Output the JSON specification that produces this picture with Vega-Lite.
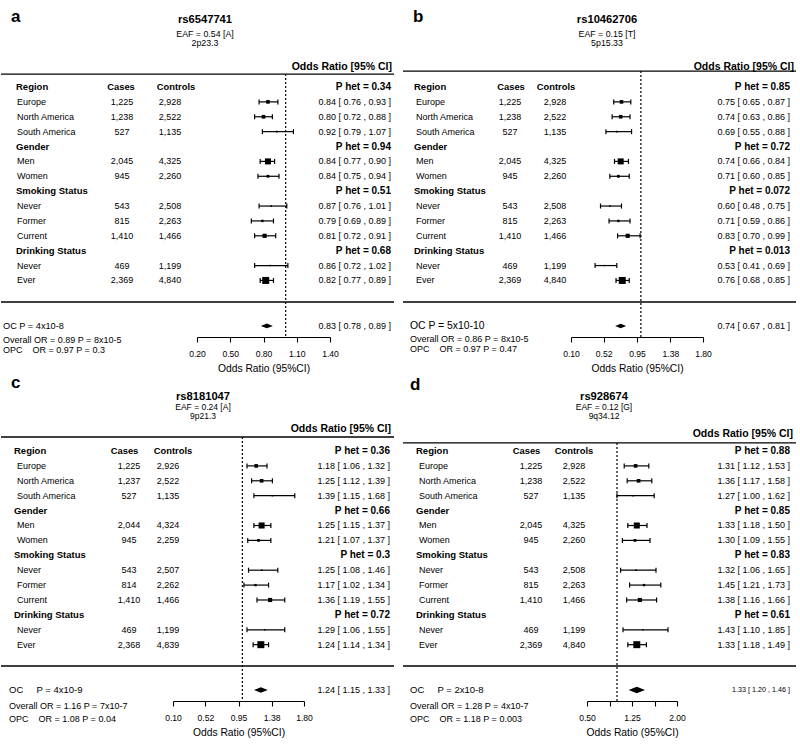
{
"$schema": "https://vega.github.io/schema/vega-lite/v6.json",
"padding": 0,
"spacing": 0,
"config": {
 "view": {"stroke": null, "fill": null},
 "font": "Liberation Sans",
 "text": {"color": "#000", "font": "Liberation Sans"},
 "axis": {"grid": false, "domainColor": "#000", "domainWidth": 1.1, "tickColor": "#000", "tickWidth": 1.1, "tickSize": 5, "labelFont": "Liberation Sans", "labelFontSize": 8.6, "labelColor": "#000", "labelPadding": 7, "labelFlush": false, "labelOverlap": false, "titleFont": "Liberation Sans", "titleFontSize": 10.3, "titleFontWeight": "normal", "titleColor": "#000", "titlePadding": 6}
},
"datasets": {
 "ra": [
  {"row": 0, "label": "Region", "phet": "P het = 0.34"},
  {"row": 1, "label": "Europe", "cases": 1225, "controls": 2928, "or": 0.84, "lo": 0.76, "hi": 0.93, "ortext": "0.84 [ 0.76 , 0.93 ]"},
  {"row": 2, "label": "North America", "cases": 1238, "controls": 2522, "or": 0.80, "lo": 0.72, "hi": 0.88, "ortext": "0.80 [ 0.72 , 0.88 ]"},
  {"row": 3, "label": "South America", "cases": 527, "controls": 1135, "or": 0.92, "lo": 0.79, "hi": 1.07, "ortext": "0.92 [ 0.79 , 1.07 ]"},
  {"row": 4, "label": "Gender", "phet": "P het = 0.94"},
  {"row": 5, "label": "Men", "cases": 2045, "controls": 4325, "or": 0.84, "lo": 0.77, "hi": 0.90, "ortext": "0.84 [ 0.77 , 0.90 ]"},
  {"row": 6, "label": "Women", "cases": 945, "controls": 2260, "or": 0.84, "lo": 0.75, "hi": 0.94, "ortext": "0.84 [ 0.75 , 0.94 ]"},
  {"row": 7, "label": "Smoking Status", "phet": "P het = 0.51"},
  {"row": 8, "label": "Never", "cases": 543, "controls": 2508, "or": 0.87, "lo": 0.76, "hi": 1.01, "ortext": "0.87 [ 0.76 , 1.01 ]"},
  {"row": 9, "label": "Former", "cases": 815, "controls": 2263, "or": 0.79, "lo": 0.69, "hi": 0.89, "ortext": "0.79 [ 0.69 , 0.89 ]"},
  {"row": 10, "label": "Current", "cases": 1410, "controls": 1466, "or": 0.81, "lo": 0.72, "hi": 0.91, "ortext": "0.81 [ 0.72 , 0.91 ]"},
  {"row": 11, "label": "Drinking Status", "phet": "P het = 0.68"},
  {"row": 12, "label": "Never", "cases": 469, "controls": 1199, "or": 0.86, "lo": 0.72, "hi": 1.02, "ortext": "0.86 [ 0.72 , 1.02 ]"},
  {"row": 13, "label": "Ever", "cases": 2369, "controls": 4840, "or": 0.82, "lo": 0.77, "hi": 0.89, "ortext": "0.82 [ 0.77 , 0.89 ]"}
 ],
 "rb": [
  {"row": 0, "label": "Region", "phet": "P het = 0.85"},
  {"row": 1, "label": "Europe", "cases": 1225, "controls": 2928, "or": 0.75, "lo": 0.65, "hi": 0.87, "ortext": "0.75 [ 0.65 , 0.87 ]"},
  {"row": 2, "label": "North America", "cases": 1238, "controls": 2522, "or": 0.74, "lo": 0.63, "hi": 0.86, "ortext": "0.74 [ 0.63 , 0.86 ]"},
  {"row": 3, "label": "South America", "cases": 527, "controls": 1135, "or": 0.69, "lo": 0.55, "hi": 0.88, "ortext": "0.69 [ 0.55 , 0.88 ]"},
  {"row": 4, "label": "Gender", "phet": "P het = 0.72"},
  {"row": 5, "label": "Men", "cases": 2045, "controls": 4325, "or": 0.74, "lo": 0.66, "hi": 0.84, "ortext": "0.74 [ 0.66 , 0.84 ]"},
  {"row": 6, "label": "Women", "cases": 945, "controls": 2260, "or": 0.71, "lo": 0.60, "hi": 0.85, "ortext": "0.71 [ 0.60 , 0.85 ]"},
  {"row": 7, "label": "Smoking Status", "phet": "P het = 0.072"},
  {"row": 8, "label": "Never", "cases": 543, "controls": 2508, "or": 0.60, "lo": 0.48, "hi": 0.75, "ortext": "0.60 [ 0.48 , 0.75 ]"},
  {"row": 9, "label": "Former", "cases": 815, "controls": 2263, "or": 0.71, "lo": 0.59, "hi": 0.86, "ortext": "0.71 [ 0.59 , 0.86 ]"},
  {"row": 10, "label": "Current", "cases": 1410, "controls": 1466, "or": 0.83, "lo": 0.70, "hi": 0.99, "ortext": "0.83 [ 0.70 , 0.99 ]"},
  {"row": 11, "label": "Drinking Status", "phet": "P het = 0.013"},
  {"row": 12, "label": "Never", "cases": 469, "controls": 1199, "or": 0.53, "lo": 0.41, "hi": 0.69, "ortext": "0.53 [ 0.41 , 0.69 ]"},
  {"row": 13, "label": "Ever", "cases": 2369, "controls": 4840, "or": 0.76, "lo": 0.68, "hi": 0.85, "ortext": "0.76 [ 0.68 , 0.85 ]"}
 ],
 "rc": [
  {"row": 0, "label": "Region", "phet": "P het = 0.36"},
  {"row": 1, "label": "Europe", "cases": 1225, "controls": 2926, "or": 1.18, "lo": 1.06, "hi": 1.32, "ortext": "1.18 [ 1.06 , 1.32 ]"},
  {"row": 2, "label": "North America", "cases": 1237, "controls": 2522, "or": 1.25, "lo": 1.12, "hi": 1.39, "ortext": "1.25 [ 1.12 , 1.39 ]"},
  {"row": 3, "label": "South America", "cases": 527, "controls": 1135, "or": 1.39, "lo": 1.15, "hi": 1.68, "ortext": "1.39 [ 1.15 , 1.68 ]"},
  {"row": 4, "label": "Gender", "phet": "P het = 0.66"},
  {"row": 5, "label": "Men", "cases": 2044, "controls": 4324, "or": 1.25, "lo": 1.15, "hi": 1.37, "ortext": "1.25 [ 1.15 , 1.37 ]"},
  {"row": 6, "label": "Women", "cases": 945, "controls": 2259, "or": 1.21, "lo": 1.07, "hi": 1.37, "ortext": "1.21 [ 1.07 , 1.37 ]"},
  {"row": 7, "label": "Smoking Status", "phet": "P het = 0.3"},
  {"row": 8, "label": "Never", "cases": 543, "controls": 2507, "or": 1.25, "lo": 1.08, "hi": 1.46, "ortext": "1.25 [ 1.08 , 1.46 ]"},
  {"row": 9, "label": "Former", "cases": 814, "controls": 2262, "or": 1.17, "lo": 1.02, "hi": 1.34, "ortext": "1.17 [ 1.02 , 1.34 ]"},
  {"row": 10, "label": "Current", "cases": 1410, "controls": 1466, "or": 1.36, "lo": 1.19, "hi": 1.55, "ortext": "1.36 [ 1.19 , 1.55 ]"},
  {"row": 11, "label": "Drinking Status", "phet": "P het = 0.72"},
  {"row": 12, "label": "Never", "cases": 469, "controls": 1199, "or": 1.29, "lo": 1.06, "hi": 1.55, "ortext": "1.29 [ 1.06 , 1.55 ]"},
  {"row": 13, "label": "Ever", "cases": 2368, "controls": 4839, "or": 1.24, "lo": 1.14, "hi": 1.34, "ortext": "1.24 [ 1.14 , 1.34 ]"}
 ],
 "rd": [
  {"row": 0, "label": "Region", "phet": "P het = 0.88"},
  {"row": 1, "label": "Europe", "cases": 1225, "controls": 2928, "or": 1.31, "lo": 1.12, "hi": 1.53, "ortext": "1.31 [ 1.12 , 1.53 ]"},
  {"row": 2, "label": "North America", "cases": 1238, "controls": 2522, "or": 1.36, "lo": 1.17, "hi": 1.58, "ortext": "1.36 [ 1.17 , 1.58 ]"},
  {"row": 3, "label": "South America", "cases": 527, "controls": 1135, "or": 1.27, "lo": 1.00, "hi": 1.62, "ortext": "1.27 [ 1.00 , 1.62 ]"},
  {"row": 4, "label": "Gender", "phet": "P het = 0.85"},
  {"row": 5, "label": "Men", "cases": 2045, "controls": 4325, "or": 1.33, "lo": 1.18, "hi": 1.50, "ortext": "1.33 [ 1.18 , 1.50 ]"},
  {"row": 6, "label": "Women", "cases": 945, "controls": 2260, "or": 1.30, "lo": 1.09, "hi": 1.55, "ortext": "1.30 [ 1.09 , 1.55 ]"},
  {"row": 7, "label": "Smoking Status", "phet": "P het = 0.83"},
  {"row": 8, "label": "Never", "cases": 543, "controls": 2508, "or": 1.32, "lo": 1.06, "hi": 1.65, "ortext": "1.32 [ 1.06 , 1.65 ]"},
  {"row": 9, "label": "Former", "cases": 815, "controls": 2263, "or": 1.45, "lo": 1.21, "hi": 1.73, "ortext": "1.45 [ 1.21 , 1.73 ]"},
  {"row": 10, "label": "Current", "cases": 1410, "controls": 1466, "or": 1.38, "lo": 1.16, "hi": 1.66, "ortext": "1.38 [ 1.16 , 1.66 ]"},
  {"row": 11, "label": "Drinking Status", "phet": "P het = 0.61"},
  {"row": 12, "label": "Never", "cases": 469, "controls": 1199, "or": 1.43, "lo": 1.10, "hi": 1.85, "ortext": "1.43 [ 1.10 , 1.85 ]"},
  {"row": 13, "label": "Ever", "cases": 2369, "controls": 4840, "or": 1.33, "lo": 1.18, "hi": 1.49, "ortext": "1.33 [ 1.18 , 1.49 ]"}
 ],
 "ia": [{"letter": "a", "snp": "rs6547741", "eaf": "EAF = 0.54 [A]", "band": "2p23.3", "oc": "OC P = 4x10-8", "or": 0.83, "lo": 0.78, "hi": 0.89, "ortext": "0.83 [ 0.78 , 0.89 ]", "overall": "Overall OR = 0.89 P = 8x10-5", "opc": "OPC\u00a0\u00a0\u00a0\u00a0OR = 0.97 P = 0.3"}],
 "ib": [{"letter": "b", "snp": "rs10462706", "eaf": "EAF = 0.15 [T]", "band": "5p15.33", "oc": "OC P = 5x10-10", "or": 0.74, "lo": 0.67, "hi": 0.81, "ortext": "0.74 [ 0.67 , 0.81 ]", "overall": "Overall OR = 0.86 P = 8x10-5", "opc": "OPC\u00a0\u00a0\u00a0\u00a0OR = 0.97 P = 0.47"}],
 "ic": [{"letter": "c", "snp": "rs8181047", "eaf": "EAF = 0.24 [A]", "band": "9p21.3", "oc": "OC\u00a0\u00a0\u00a0\u00a0\u00a0P = 4x10-9", "or": 1.24, "lo": 1.15, "hi": 1.33, "ortext": "1.24 [ 1.15 , 1.33 ]", "overall": "Overall OR = 1.16 P = 7x10-7", "opc": "OPC\u00a0\u00a0\u00a0\u00a0OR = 1.08 P = 0.04"}],
 "id": [{"letter": "d", "snp": "rs928674", "eaf": "EAF = 0.12 [G]", "band": "9q34.12", "oc": "OC\u00a0\u00a0\u00a0\u00a0\u00a0P = 2x10-8", "or": 1.33, "lo": 1.20, "hi": 1.46, "ortext": "1.33 [ 1.20 , 1.46 ]", "overall": "Overall OR = 1.28 P = 4x10-7", "opc": "OPC\u00a0\u00a0\u00a0\u00a0OR = 1.18 P = 0.003"}]
},
"vconcat": [
{"spacing": 7, "hconcat": [
{
 "width": 393, "height": 337,
 "view": {"stroke": null, "fill": null},
 "data": {"name": "ra"},
 "layer": [
  {"transform": [{"filter": "isValid(datum.or)"}], "mark": {"type": "rule", "color": "#000", "strokeWidth": 1.2},
   "encoding": {"x": {"field": "lo", "type": "quantitative", "scale": {"domain": [0.2, 1.4], "range": [196, 329], "nice": false, "zero": false}, "axis": {"values": [0.2, 0.5, 0.8, 1.1, 1.4], "format": ".2f", "title": "Odds Ratio (95%CI)"}}, "x2": {"field": "hi"},
    "y": {"field": "row", "type": "quantitative", "scale": {"domain": [-5.847, 16.801], "reverse": true, "nice": false, "zero": false}, "axis": null}}},
  {"transform": [{"filter": "isValid(datum.or)"}], "mark": {"type": "tick", "orient": "vertical", "size": 5, "thickness": 1.2, "color": "#000", "opacity": 1},
   "encoding": {"x": {"field": "lo", "type": "quantitative"}, "y": {"field": "row", "type": "quantitative", "axis": null}}},
  {"transform": [{"filter": "isValid(datum.or)"}], "mark": {"type": "tick", "orient": "vertical", "size": 5, "thickness": 1.2, "color": "#000", "opacity": 1},
   "encoding": {"x": {"field": "hi", "type": "quantitative"}, "y": {"field": "row", "type": "quantitative", "axis": null}}},
  {"transform": [{"filter": "isValid(datum.or)"}], "mark": {"type": "point", "shape": "square", "filled": true, "color": "#000", "opacity": 1},
   "encoding": {"x": {"field": "or", "type": "quantitative"}, "y": {"field": "row", "type": "quantitative", "axis": null}, "size": {"field": "cases", "type": "quantitative", "scale": {"type": "pow", "exponent": 2, "domain": [0, 2400], "range": [0, 50]}, "legend": null}}},
  {"transform": [{"filter": "isValid(datum.phet)"}], "mark": {"type": "text", "align": "left", "baseline": "middle", "fontWeight": "bold", "fontSize": 9.5},
   "encoding": {"x": {"value": 15}, "y": {"field": "row", "type": "quantitative", "axis": null}, "text": {"field": "label"}}},
  {"transform": [{"filter": "isValid(datum.phet)"}], "mark": {"type": "text", "align": "right", "baseline": "middle", "fontWeight": "bold", "fontSize": 10},
   "encoding": {"x": {"value": 390}, "y": {"field": "row", "type": "quantitative", "axis": null}, "text": {"field": "phet"}}},
  {"transform": [{"filter": "isValid(datum.cases)"}], "mark": {"type": "text", "align": "left", "baseline": "middle", "fontSize": 9},
   "encoding": {"x": {"value": 16}, "y": {"field": "row", "type": "quantitative", "axis": null}, "text": {"field": "label"}}},
  {"transform": [{"filter": "isValid(datum.cases)"}], "mark": {"type": "text", "align": "center", "baseline": "middle", "fontSize": 9},
   "encoding": {"x": {"value": 121}, "y": {"field": "row", "type": "quantitative", "axis": null}, "text": {"field": "cases", "type": "quantitative", "format": ","}}},
  {"transform": [{"filter": "isValid(datum.cases)"}], "mark": {"type": "text", "align": "center", "baseline": "middle", "fontSize": 9},
   "encoding": {"x": {"value": 169}, "y": {"field": "row", "type": "quantitative", "axis": null}, "text": {"field": "controls", "type": "quantitative", "format": ","}}},
  {"transform": [{"filter": "isValid(datum.cases)"}], "mark": {"type": "text", "align": "right", "baseline": "middle", "fontSize": 9},
   "encoding": {"x": {"value": 390}, "y": {"field": "row", "type": "quantitative", "axis": null}, "text": {"field": "ortext"}}},
  {"data": {"name": "ia"}, "mark": {"type": "text", "align": "center", "baseline": "middle", "fontWeight": "bold", "fontSize": 9.4},
   "encoding": {"x": {"value": 120}, "y": {"datum": 0}, "text": {"value": "Cases"}}},
  {"data": {"name": "ia"}, "mark": {"type": "text", "align": "center", "baseline": "middle", "fontWeight": "bold", "fontSize": 9.4},
   "encoding": {"x": {"value": 175}, "y": {"datum": 0}, "text": {"value": "Controls"}}},
  {"data": {"name": "ia"}, "mark": {"type": "text", "align": "left", "baseline": "alphabetic", "fontWeight": "bold", "fontSize": 17},
   "encoding": {"x": {"value": 10}, "y": {"datum": -4.37}, "text": {"field": "letter"}}},
  {"data": {"name": "ia"}, "mark": {"type": "text", "align": "center", "baseline": "middle", "fontWeight": "bold", "fontSize": 11.2},
   "encoding": {"x": {"value": 204}, "y": {"datum": -4.5}, "text": {"field": "snp"}}},
  {"data": {"name": "ia"}, "mark": {"type": "text", "align": "center", "baseline": "middle", "fontSize": 8.8},
   "encoding": {"x": {"value": 204}, "y": {"datum": -3.56}, "text": {"field": "eaf"}}},
  {"data": {"name": "ia"}, "mark": {"type": "text", "align": "center", "baseline": "middle", "fontSize": 8.8},
   "encoding": {"x": {"value": 204}, "y": {"datum": -2.96}, "text": {"field": "band"}}},
  {"data": {"name": "ia"}, "mark": {"type": "text", "align": "right", "baseline": "middle", "fontWeight": "bold", "fontSize": 10.5},
   "encoding": {"x": {"value": 391}, "y": {"datum": -1.34}, "text": {"value": "Odds Ratio [95% CI]"}}},
  {"data": {"name": "ia"}, "mark": {"type": "rule", "color": "#000", "strokeWidth": 1.3},
   "encoding": {"x": {"value": 0}, "x2": {"value": "width"}, "y": {"datum": -0.87}}},
  {"data": {"name": "ia"}, "mark": {"type": "rule", "color": "#000", "strokeWidth": 1.3},
   "encoding": {"x": {"value": 0}, "x2": {"value": "width"}, "y": {"datum": 14.45}}},
  {"data": {"name": "ia"}, "mark": {"type": "rule", "color": "#000", "strokeWidth": 1.2, "strokeDash": [2, 2]},
   "encoding": {"x": {"datum": 1}, "y": {"datum": -0.87}, "y2": {"datum": 16.8}}},
  {"data": {"name": "ia"}, "mark": {"type": "point", "shape": "M-1,0L0,-0.4L1,0L0,0.4Z", "filled": true, "color": "#000", "opacity": 1, "size": 144},
   "encoding": {"x": {"field": "or", "type": "quantitative"}, "y": {"datum": 16.06}}},
  {"data": {"name": "ia"}, "mark": {"type": "text", "align": "left", "baseline": "middle", "fontSize": 9.2},
   "encoding": {"x": {"value": 2}, "y": {"datum": 16.06}, "text": {"field": "oc"}}},
  {"data": {"name": "ia"}, "mark": {"type": "text", "align": "right", "baseline": "middle", "fontSize": 9},
   "encoding": {"x": {"value": 390}, "y": {"datum": 16.06}, "text": {"field": "ortext"}}},
  {"data": {"name": "ia"}, "mark": {"type": "text", "align": "left", "baseline": "middle", "fontSize": 9},
   "encoding": {"x": {"value": 2}, "y": {"datum": 17.0}, "text": {"field": "overall"}}},
  {"data": {"name": "ia"}, "mark": {"type": "text", "align": "left", "baseline": "middle", "fontSize": 9},
   "encoding": {"x": {"value": 2}, "y": {"datum": 17.67}, "text": {"field": "opc"}}}
 ]
},
{
 "width": 393, "height": 337,
 "view": {"stroke": null, "fill": null},
 "data": {"name": "rb"},
 "layer": [
  {"transform": [{"filter": "isValid(datum.or)"}], "mark": {"type": "rule", "color": "#000", "strokeWidth": 1.2},
   "encoding": {"x": {"field": "lo", "type": "quantitative", "scale": {"domain": [0.1, 1.8], "range": [168, 300], "nice": false, "zero": false}, "axis": {"values": [0.1, 0.52, 0.95, 1.38, 1.8], "format": ".2f", "title": "Odds Ratio (95%CI)"}}, "x2": {"field": "hi"},
    "y": {"field": "row", "type": "quantitative", "scale": {"domain": [-5.847, 16.801], "reverse": true, "nice": false, "zero": false}, "axis": null}}},
  {"transform": [{"filter": "isValid(datum.or)"}], "mark": {"type": "tick", "orient": "vertical", "size": 5, "thickness": 1.2, "color": "#000", "opacity": 1},
   "encoding": {"x": {"field": "lo", "type": "quantitative"}, "y": {"field": "row", "type": "quantitative", "axis": null}}},
  {"transform": [{"filter": "isValid(datum.or)"}], "mark": {"type": "tick", "orient": "vertical", "size": 5, "thickness": 1.2, "color": "#000", "opacity": 1},
   "encoding": {"x": {"field": "hi", "type": "quantitative"}, "y": {"field": "row", "type": "quantitative", "axis": null}}},
  {"transform": [{"filter": "isValid(datum.or)"}], "mark": {"type": "point", "shape": "square", "filled": true, "color": "#000", "opacity": 1},
   "encoding": {"x": {"field": "or", "type": "quantitative"}, "y": {"field": "row", "type": "quantitative", "axis": null}, "size": {"field": "cases", "type": "quantitative", "scale": {"type": "pow", "exponent": 2, "domain": [0, 2400], "range": [0, 50]}, "legend": null}}},
  {"transform": [{"filter": "isValid(datum.phet)"}], "mark": {"type": "text", "align": "left", "baseline": "middle", "fontWeight": "bold", "fontSize": 9.5},
   "encoding": {"x": {"value": 11}, "y": {"field": "row", "type": "quantitative", "axis": null}, "text": {"field": "label"}}},
  {"transform": [{"filter": "isValid(datum.phet)"}], "mark": {"type": "text", "align": "right", "baseline": "middle", "fontWeight": "bold", "fontSize": 10},
   "encoding": {"x": {"value": 387}, "y": {"field": "row", "type": "quantitative", "axis": null}, "text": {"field": "phet"}}},
  {"transform": [{"filter": "isValid(datum.cases)"}], "mark": {"type": "text", "align": "left", "baseline": "middle", "fontSize": 9},
   "encoding": {"x": {"value": 13}, "y": {"field": "row", "type": "quantitative", "axis": null}, "text": {"field": "label"}}},
  {"transform": [{"filter": "isValid(datum.cases)"}], "mark": {"type": "text", "align": "center", "baseline": "middle", "fontSize": 9},
   "encoding": {"x": {"value": 107}, "y": {"field": "row", "type": "quantitative", "axis": null}, "text": {"field": "cases", "type": "quantitative", "format": ","}}},
  {"transform": [{"filter": "isValid(datum.cases)"}], "mark": {"type": "text", "align": "center", "baseline": "middle", "fontSize": 9},
   "encoding": {"x": {"value": 152}, "y": {"field": "row", "type": "quantitative", "axis": null}, "text": {"field": "controls", "type": "quantitative", "format": ","}}},
  {"transform": [{"filter": "isValid(datum.cases)"}], "mark": {"type": "text", "align": "right", "baseline": "middle", "fontSize": 9},
   "encoding": {"x": {"value": 387}, "y": {"field": "row", "type": "quantitative", "axis": null}, "text": {"field": "ortext"}}},
  {"data": {"name": "ib"}, "mark": {"type": "text", "align": "center", "baseline": "middle", "fontWeight": "bold", "fontSize": 9.4},
   "encoding": {"x": {"value": 108}, "y": {"datum": 0}, "text": {"value": "Cases"}}},
  {"data": {"name": "ib"}, "mark": {"type": "text", "align": "center", "baseline": "middle", "fontWeight": "bold", "fontSize": 9.4},
   "encoding": {"x": {"value": 153}, "y": {"datum": 0}, "text": {"value": "Controls"}}},
  {"data": {"name": "ib"}, "mark": {"type": "text", "align": "left", "baseline": "alphabetic", "fontWeight": "bold", "fontSize": 17},
   "encoding": {"x": {"value": 10}, "y": {"datum": -4.39}, "text": {"field": "letter"}}},
  {"data": {"name": "ib"}, "mark": {"type": "text", "align": "center", "baseline": "middle", "fontWeight": "bold", "fontSize": 11.2},
   "encoding": {"x": {"value": 204}, "y": {"datum": -4.5}, "text": {"field": "snp"}}},
  {"data": {"name": "ib"}, "mark": {"type": "text", "align": "center", "baseline": "middle", "fontSize": 8.8},
   "encoding": {"x": {"value": 204}, "y": {"datum": -3.56}, "text": {"field": "eaf"}}},
  {"data": {"name": "ib"}, "mark": {"type": "text", "align": "center", "baseline": "middle", "fontSize": 8.8},
   "encoding": {"x": {"value": 204}, "y": {"datum": -2.96}, "text": {"field": "band"}}},
  {"data": {"name": "ib"}, "mark": {"type": "text", "align": "right", "baseline": "middle", "fontWeight": "bold", "fontSize": 10.5},
   "encoding": {"x": {"value": 391}, "y": {"datum": -1.34}, "text": {"value": "Odds Ratio [95% CI]"}}},
  {"data": {"name": "ib"}, "mark": {"type": "rule", "color": "#000", "strokeWidth": 1.3},
   "encoding": {"x": {"value": 0}, "x2": {"value": "width"}, "y": {"datum": -1.07}}},
  {"data": {"name": "ib"}, "mark": {"type": "rule", "color": "#000", "strokeWidth": 1.3},
   "encoding": {"x": {"value": 0}, "x2": {"value": "width"}, "y": {"datum": 14.45}}},
  {"data": {"name": "ib"}, "mark": {"type": "rule", "color": "#000", "strokeWidth": 1.2, "strokeDash": [2, 2]},
   "encoding": {"x": {"datum": 1}, "y": {"datum": -1.07}, "y2": {"datum": 16.8}}},
  {"data": {"name": "ib"}, "mark": {"type": "point", "shape": "M-1,0L0,-0.4L1,0L0,0.4Z", "filled": true, "color": "#000", "opacity": 1, "size": 121},
   "encoding": {"x": {"field": "or", "type": "quantitative"}, "y": {"datum": 16.06}}},
  {"data": {"name": "ib"}, "mark": {"type": "text", "align": "left", "baseline": "middle", "fontSize": 10.4},
   "encoding": {"x": {"value": 7}, "y": {"datum": 16.06}, "text": {"field": "oc"}}},
  {"data": {"name": "ib"}, "mark": {"type": "text", "align": "right", "baseline": "middle", "fontSize": 9},
   "encoding": {"x": {"value": 387}, "y": {"datum": 16.06}, "text": {"field": "ortext"}}},
  {"data": {"name": "ib"}, "mark": {"type": "text", "align": "left", "baseline": "middle", "fontSize": 9},
   "encoding": {"x": {"value": 7}, "y": {"datum": 16.94}, "text": {"field": "overall"}}},
  {"data": {"name": "ib"}, "mark": {"type": "text", "align": "left", "baseline": "middle", "fontSize": 9},
   "encoding": {"x": {"value": 7}, "y": {"datum": 17.6}, "text": {"field": "opc"}}}
 ]
}
]},
{"spacing": 7, "hconcat": [
{
 "width": 393, "height": 323,
 "view": {"stroke": null, "fill": null},
 "data": {"name": "rc"},
 "layer": [
  {"transform": [{"filter": "isValid(datum.or)"}], "mark": {"type": "rule", "color": "#000", "strokeWidth": 1.2},
   "encoding": {"x": {"field": "lo", "type": "quantitative", "scale": {"domain": [0.1, 1.8], "range": [172, 303], "nice": false, "zero": false}, "axis": {"values": [0.1, 0.52, 0.95, 1.38, 1.8], "format": ".2f", "title": "Odds Ratio (95%CI)"}}, "x2": {"field": "hi"},
    "y": {"field": "row", "type": "quantitative", "scale": {"domain": [-4.9, 16.78], "reverse": true, "nice": false, "zero": false}, "axis": null}}},
  {"transform": [{"filter": "isValid(datum.or)"}], "mark": {"type": "tick", "orient": "vertical", "size": 5, "thickness": 1.2, "color": "#000", "opacity": 1},
   "encoding": {"x": {"field": "lo", "type": "quantitative"}, "y": {"field": "row", "type": "quantitative", "axis": null}}},
  {"transform": [{"filter": "isValid(datum.or)"}], "mark": {"type": "tick", "orient": "vertical", "size": 5, "thickness": 1.2, "color": "#000", "opacity": 1},
   "encoding": {"x": {"field": "hi", "type": "quantitative"}, "y": {"field": "row", "type": "quantitative", "axis": null}}},
  {"transform": [{"filter": "isValid(datum.or)"}], "mark": {"type": "point", "shape": "square", "filled": true, "color": "#000", "opacity": 1},
   "encoding": {"x": {"field": "or", "type": "quantitative"}, "y": {"field": "row", "type": "quantitative", "axis": null}, "size": {"field": "cases", "type": "quantitative", "scale": {"type": "pow", "exponent": 2, "domain": [0, 2400], "range": [0, 50]}, "legend": null}}},
  {"transform": [{"filter": "isValid(datum.phet)"}], "mark": {"type": "text", "align": "left", "baseline": "middle", "fontWeight": "bold", "fontSize": 9.5},
   "encoding": {"x": {"value": 13}, "y": {"field": "row", "type": "quantitative", "axis": null}, "text": {"field": "label"}}},
  {"transform": [{"filter": "isValid(datum.phet)"}], "mark": {"type": "text", "align": "right", "baseline": "middle", "fontWeight": "bold", "fontSize": 10},
   "encoding": {"x": {"value": 389}, "y": {"field": "row", "type": "quantitative", "axis": null}, "text": {"field": "phet"}}},
  {"transform": [{"filter": "isValid(datum.cases)"}], "mark": {"type": "text", "align": "left", "baseline": "middle", "fontSize": 9},
   "encoding": {"x": {"value": 16}, "y": {"field": "row", "type": "quantitative", "axis": null}, "text": {"field": "label"}}},
  {"transform": [{"filter": "isValid(datum.cases)"}], "mark": {"type": "text", "align": "center", "baseline": "middle", "fontSize": 9},
   "encoding": {"x": {"value": 128}, "y": {"field": "row", "type": "quantitative", "axis": null}, "text": {"field": "cases", "type": "quantitative", "format": ","}}},
  {"transform": [{"filter": "isValid(datum.cases)"}], "mark": {"type": "text", "align": "center", "baseline": "middle", "fontSize": 9},
   "encoding": {"x": {"value": 167}, "y": {"field": "row", "type": "quantitative", "axis": null}, "text": {"field": "controls", "type": "quantitative", "format": ","}}},
  {"transform": [{"filter": "isValid(datum.cases)"}], "mark": {"type": "text", "align": "right", "baseline": "middle", "fontSize": 9},
   "encoding": {"x": {"value": 389}, "y": {"field": "row", "type": "quantitative", "axis": null}, "text": {"field": "ortext"}}},
  {"data": {"name": "ic"}, "mark": {"type": "text", "align": "center", "baseline": "middle", "fontWeight": "bold", "fontSize": 9.4},
   "encoding": {"x": {"value": 123.5}, "y": {"datum": 0}, "text": {"value": "Cases"}}},
  {"data": {"name": "ic"}, "mark": {"type": "text", "align": "center", "baseline": "middle", "fontWeight": "bold", "fontSize": 9.4},
   "encoding": {"x": {"value": 172}, "y": {"datum": 0}, "text": {"value": "Controls"}}},
  {"data": {"name": "ic"}, "mark": {"type": "text", "align": "left", "baseline": "alphabetic", "fontWeight": "bold", "fontSize": 17},
   "encoding": {"x": {"value": 10}, "y": {"datum": -4.2}, "text": {"field": "letter"}}},
  {"data": {"name": "ic"}, "mark": {"type": "text", "align": "center", "baseline": "middle", "fontWeight": "bold", "fontSize": 11.2},
   "encoding": {"x": {"value": 202}, "y": {"datum": -3.62}, "text": {"field": "snp"}}},
  {"data": {"name": "ic"}, "mark": {"type": "text", "align": "center", "baseline": "middle", "fontSize": 8.5},
   "encoding": {"x": {"value": 202}, "y": {"datum": -2.98}, "text": {"field": "eaf"}}},
  {"data": {"name": "ic"}, "mark": {"type": "text", "align": "center", "baseline": "middle", "fontSize": 8.5},
   "encoding": {"x": {"value": 202}, "y": {"datum": -2.32}, "text": {"field": "band"}}},
  {"data": {"name": "ic"}, "mark": {"type": "text", "align": "right", "baseline": "middle", "fontWeight": "bold", "fontSize": 10.5},
   "encoding": {"x": {"value": 390}, "y": {"datum": -1.48}, "text": {"value": "Odds Ratio [95% CI]"}}},
  {"data": {"name": "ic"}, "mark": {"type": "rule", "color": "#000", "strokeWidth": 1.3},
   "encoding": {"x": {"value": 0}, "x2": {"value": "width"}, "y": {"datum": -0.94}}},
  {"data": {"name": "ic"}, "mark": {"type": "rule", "color": "#000", "strokeWidth": 1.3},
   "encoding": {"x": {"value": 0}, "x2": {"value": "width"}, "y": {"datum": 14.43}}},
  {"data": {"name": "ic"}, "mark": {"type": "rule", "color": "#000", "strokeWidth": 1.2, "strokeDash": [2, 2]},
   "encoding": {"x": {"datum": 1}, "y": {"datum": -0.94}, "y2": {"datum": 16.78}}},
  {"data": {"name": "ic"}, "mark": {"type": "point", "shape": "M-1,0L0,-0.4L1,0L0,0.4Z", "filled": true, "color": "#000", "opacity": 1, "size": 193},
   "encoding": {"x": {"field": "or", "type": "quantitative"}, "y": {"datum": 16.04}}},
  {"data": {"name": "ic"}, "mark": {"type": "text", "align": "left", "baseline": "middle", "fontSize": 9.5},
   "encoding": {"x": {"value": 8}, "y": {"datum": 16.04}, "text": {"field": "oc"}}},
  {"data": {"name": "ic"}, "mark": {"type": "text", "align": "right", "baseline": "middle", "fontSize": 9},
   "encoding": {"x": {"value": 389}, "y": {"datum": 16.04}, "text": {"field": "ortext"}}},
  {"data": {"name": "ic"}, "mark": {"type": "text", "align": "left", "baseline": "middle", "fontSize": 9},
   "encoding": {"x": {"value": 8}, "y": {"datum": 17.11}, "text": {"field": "overall"}}},
  {"data": {"name": "ic"}, "mark": {"type": "text", "align": "left", "baseline": "middle", "fontSize": 9},
   "encoding": {"x": {"value": 8}, "y": {"datum": 17.99}, "text": {"field": "opc"}}}
 ]
},
{
 "width": 393, "height": 323,
 "view": {"stroke": null, "fill": null},
 "data": {"name": "rd"},
 "layer": [
  {"transform": [{"filter": "isValid(datum.or)"}], "mark": {"type": "rule", "color": "#000", "strokeWidth": 1.2},
   "encoding": {"x": {"field": "lo", "type": "quantitative", "scale": {"domain": [0.5, 2.0], "range": [184, 274], "nice": false, "zero": false}, "axis": {"values": [0.5, 0.875, 1.25, 1.625, 2.0], "labelExpr": "datum.value == 0.875 || datum.value == 1.625 ? '' : format(datum.value, '.2f')", "title": "Odds Ratio (95%CI)"}}, "x2": {"field": "hi"},
    "y": {"field": "row", "type": "quantitative", "scale": {"domain": [-4.9, 16.78], "reverse": true, "nice": false, "zero": false}, "axis": null}}},
  {"transform": [{"filter": "isValid(datum.or)"}], "mark": {"type": "tick", "orient": "vertical", "size": 5, "thickness": 1.2, "color": "#000", "opacity": 1},
   "encoding": {"x": {"field": "lo", "type": "quantitative"}, "y": {"field": "row", "type": "quantitative", "axis": null}}},
  {"transform": [{"filter": "isValid(datum.or)"}], "mark": {"type": "tick", "orient": "vertical", "size": 5, "thickness": 1.2, "color": "#000", "opacity": 1},
   "encoding": {"x": {"field": "hi", "type": "quantitative"}, "y": {"field": "row", "type": "quantitative", "axis": null}}},
  {"transform": [{"filter": "isValid(datum.or)"}], "mark": {"type": "point", "shape": "square", "filled": true, "color": "#000", "opacity": 1},
   "encoding": {"x": {"field": "or", "type": "quantitative"}, "y": {"field": "row", "type": "quantitative", "axis": null}, "size": {"field": "cases", "type": "quantitative", "scale": {"type": "pow", "exponent": 2, "domain": [0, 2400], "range": [0, 50]}, "legend": null}}},
  {"transform": [{"filter": "isValid(datum.phet)"}], "mark": {"type": "text", "align": "left", "baseline": "middle", "fontWeight": "bold", "fontSize": 9.5},
   "encoding": {"x": {"value": 13}, "y": {"field": "row", "type": "quantitative", "axis": null}, "text": {"field": "label"}}},
  {"transform": [{"filter": "isValid(datum.phet)"}], "mark": {"type": "text", "align": "right", "baseline": "middle", "fontWeight": "bold", "fontSize": 10},
   "encoding": {"x": {"value": 387}, "y": {"field": "row", "type": "quantitative", "axis": null}, "text": {"field": "phet"}}},
  {"transform": [{"filter": "isValid(datum.cases)"}], "mark": {"type": "text", "align": "left", "baseline": "middle", "fontSize": 9},
   "encoding": {"x": {"value": 16}, "y": {"field": "row", "type": "quantitative", "axis": null}, "text": {"field": "label"}}},
  {"transform": [{"filter": "isValid(datum.cases)"}], "mark": {"type": "text", "align": "center", "baseline": "middle", "fontSize": 9},
   "encoding": {"x": {"value": 128}, "y": {"field": "row", "type": "quantitative", "axis": null}, "text": {"field": "cases", "type": "quantitative", "format": ","}}},
  {"transform": [{"filter": "isValid(datum.cases)"}], "mark": {"type": "text", "align": "center", "baseline": "middle", "fontSize": 9},
   "encoding": {"x": {"value": 171}, "y": {"field": "row", "type": "quantitative", "axis": null}, "text": {"field": "controls", "type": "quantitative", "format": ","}}},
  {"transform": [{"filter": "isValid(datum.cases)"}], "mark": {"type": "text", "align": "right", "baseline": "middle", "fontSize": 9},
   "encoding": {"x": {"value": 387}, "y": {"field": "row", "type": "quantitative", "axis": null}, "text": {"field": "ortext"}}},
  {"data": {"name": "id"}, "mark": {"type": "text", "align": "center", "baseline": "middle", "fontWeight": "bold", "fontSize": 9.4},
   "encoding": {"x": {"value": 123.5}, "y": {"datum": 0}, "text": {"value": "Cases"}}},
  {"data": {"name": "id"}, "mark": {"type": "text", "align": "center", "baseline": "middle", "fontWeight": "bold", "fontSize": 9.4},
   "encoding": {"x": {"value": 171}, "y": {"datum": 0}, "text": {"value": "Controls"}}},
  {"data": {"name": "id"}, "mark": {"type": "text", "align": "left", "baseline": "alphabetic", "fontWeight": "bold", "fontSize": 17},
   "encoding": {"x": {"value": 7}, "y": {"datum": -4.09}, "text": {"field": "letter"}}},
  {"data": {"name": "id"}, "mark": {"type": "text", "align": "center", "baseline": "middle", "fontWeight": "bold", "fontSize": 11.2},
   "encoding": {"x": {"value": 201}, "y": {"datum": -3.62}, "text": {"field": "snp"}}},
  {"data": {"name": "id"}, "mark": {"type": "text", "align": "center", "baseline": "middle", "fontSize": 8.5},
   "encoding": {"x": {"value": 201}, "y": {"datum": -2.98}, "text": {"field": "eaf"}}},
  {"data": {"name": "id"}, "mark": {"type": "text", "align": "center", "baseline": "middle", "fontSize": 8.5},
   "encoding": {"x": {"value": 201}, "y": {"datum": -2.32}, "text": {"field": "band"}}},
  {"data": {"name": "id"}, "mark": {"type": "text", "align": "right", "baseline": "middle", "fontWeight": "bold", "fontSize": 10.5},
   "encoding": {"x": {"value": 390}, "y": {"datum": -1.14}, "text": {"value": "Odds Ratio [95% CI]"}}},
  {"data": {"name": "id"}, "mark": {"type": "rule", "color": "#000", "strokeWidth": 1.3},
   "encoding": {"x": {"value": 0}, "x2": {"value": "width"}, "y": {"datum": -0.54}}},
  {"data": {"name": "id"}, "mark": {"type": "rule", "color": "#000", "strokeWidth": 1.3},
   "encoding": {"x": {"value": 0}, "x2": {"value": "width"}, "y": {"datum": 14.43}}},
  {"data": {"name": "id"}, "mark": {"type": "rule", "color": "#000", "strokeWidth": 1.2, "strokeDash": [2, 2]},
   "encoding": {"x": {"datum": 1}, "y": {"datum": -0.54}, "y2": {"datum": 16.78}}},
  {"data": {"name": "id"}, "mark": {"type": "point", "shape": "M-1,0L0,-0.4L1,0L0,0.4Z", "filled": true, "color": "#000", "opacity": 1, "size": 269},
   "encoding": {"x": {"field": "or", "type": "quantitative"}, "y": {"datum": 16.04}}},
  {"data": {"name": "id"}, "mark": {"type": "text", "align": "left", "baseline": "middle", "fontSize": 9.5},
   "encoding": {"x": {"value": 7}, "y": {"datum": 16.04}, "text": {"field": "oc"}}},
  {"data": {"name": "id"}, "mark": {"type": "text", "align": "right", "baseline": "middle", "fontSize": 7.2},
   "encoding": {"x": {"value": 387}, "y": {"datum": 16.04}, "text": {"field": "ortext"}}},
  {"data": {"name": "id"}, "mark": {"type": "text", "align": "left", "baseline": "middle", "fontSize": 9},
   "encoding": {"x": {"value": 7}, "y": {"datum": 17.11}, "text": {"field": "overall"}}},
  {"data": {"name": "id"}, "mark": {"type": "text", "align": "left", "baseline": "middle", "fontSize": 9},
   "encoding": {"x": {"value": 7}, "y": {"datum": 17.99}, "text": {"field": "opc"}}}
 ]
}
]}
]
}
